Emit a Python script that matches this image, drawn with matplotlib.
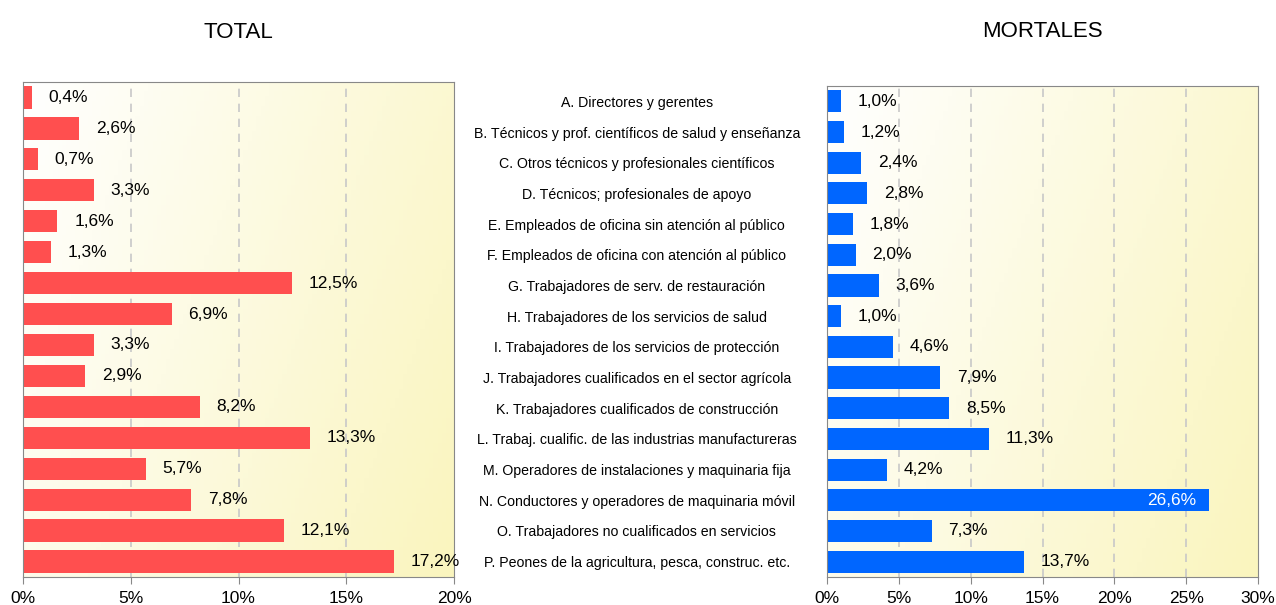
import numpy as np
import matplotlib
matplotlib.use("Agg")
from matplotlib import pyplot as plt
from matplotlib.colors import LinearSegmentedColormap

plt.rcParams['font.family'] = ['Liberation Sans', 'DejaVu Sans']

categorias = ["A. Directores y gerentes",
              "B. Técnicos y prof. científicos de salud y enseñanza",
              "C. Otros técnicos y profesionales científicos",
              "D. Técnicos; profesionales de apoyo",
              "E. Empleados de oficina sin atención al público",
              "F. Empleados de oficina con atención al público",
              "G. Trabajadores de serv. de restauración",
              "H. Trabajadores de los servicios de salud",
              "I. Trabajadores de los servicios de protección",
              "J. Trabajadores cualificados en el sector agrícola",
              "K. Trabajadores cualificados de construcción",
              "L. Trabaj. cualific. de las industrias manufactureras",
              "M. Operadores de instalaciones y maquinaria fija",
              "N. Conductores y operadores de maquinaria móvil",
              "O. Trabajadores no cualificados en servicios",
              "P. Peones de la agricultura, pesca, construc. etc."]
total = [0.4, 2.6, 0.7, 3.3, 1.6, 1.3, 12.5, 6.9, 3.3, 2.9, 8.2, 13.3, 5.7, 7.8, 12.1, 17.2]
mortales = [1.0, 1.2, 2.4, 2.8, 1.8, 2.0, 3.6, 1.0, 4.6, 7.9, 8.5, 11.3, 4.2, 26.6, 7.3, 13.7]
ticks_total = [0, 5, 10, 15, 20]
ticks_mort = [0, 5, 10, 15, 20, 25, 30]

cmap = LinearSegmentedColormap.from_list("bg", ["#FFFFFF", "#FAF5BE"])
yy, xx = np.mgrid[0:1:100j, 0:1:100j]
grad = xx * 0.7 + yy * 0.3

fig = plt.figure(figsize=(12.76, 6.05), dpi=100)
ax1 = fig.add_axes([23/1276, 1-577/605, 431/1276, 495/605])
ax2 = fig.add_axes([827/1276, 1-577/605, 431/1276, 491/605])

def panel(ax, vals, ticks, color, title, tpad, inside=None):
    y = np.arange(len(vals))
    xmax = ticks[-1]
    ax.imshow(grad, cmap=cmap, extent=[0, xmax, len(vals)-0.5, -0.5],
              aspect='auto', zorder=0)
    ax.set_xlim(0, xmax)
    ax.set_ylim(len(vals)-0.5, -0.5)
    for t in ticks[1:-1]:
        ax.axvline(t, color='#C8C8C8', lw=1.2, ls=(0, (5, 4)), zorder=1)
    ax.barh(y, vals, height=0.72, color=color, zorder=2)
    for i, v in enumerate(vals):
        lab = f"{v:.1f}%".replace('.', ',')
        if inside is not None and v > inside:
            ax.annotate(lab, (v, i), xytext=(-9, 0), textcoords='offset points',
                        ha='right', va='center', fontsize=12.5, color='white', zorder=3)
        else:
            ax.annotate(lab, (v, i), xytext=(12, 0), textcoords='offset points',
                        ha='left', va='center', fontsize=12.5, color='black', zorder=3)
    ax.set_xticks(ticks)
    ax.set_xticklabels([f"{t}%" for t in ticks], fontsize=12.5)
    for s in ax.spines.values():
        s.set_color('#888888')
    ax.tick_params(axis='x', length=5, color='#888888', pad=5)
    ax.set_title(title, fontsize=16, pad=tpad)

panel(ax1, total, ticks_total, '#FF4F4F', "TOTAL", 32)
ax1.set_yticks([])
panel(ax2, mortales, ticks_mort, '#0066FF', "MORTALES", 35, inside=20)
ax2.set_yticks(np.arange(len(categorias)))
ax2.set_yticklabels(categorias, fontsize=10.2, ha='center')
ax2.tick_params(axis='y', length=0, pad=137)

fig.savefig("out.png", dpi=100)
